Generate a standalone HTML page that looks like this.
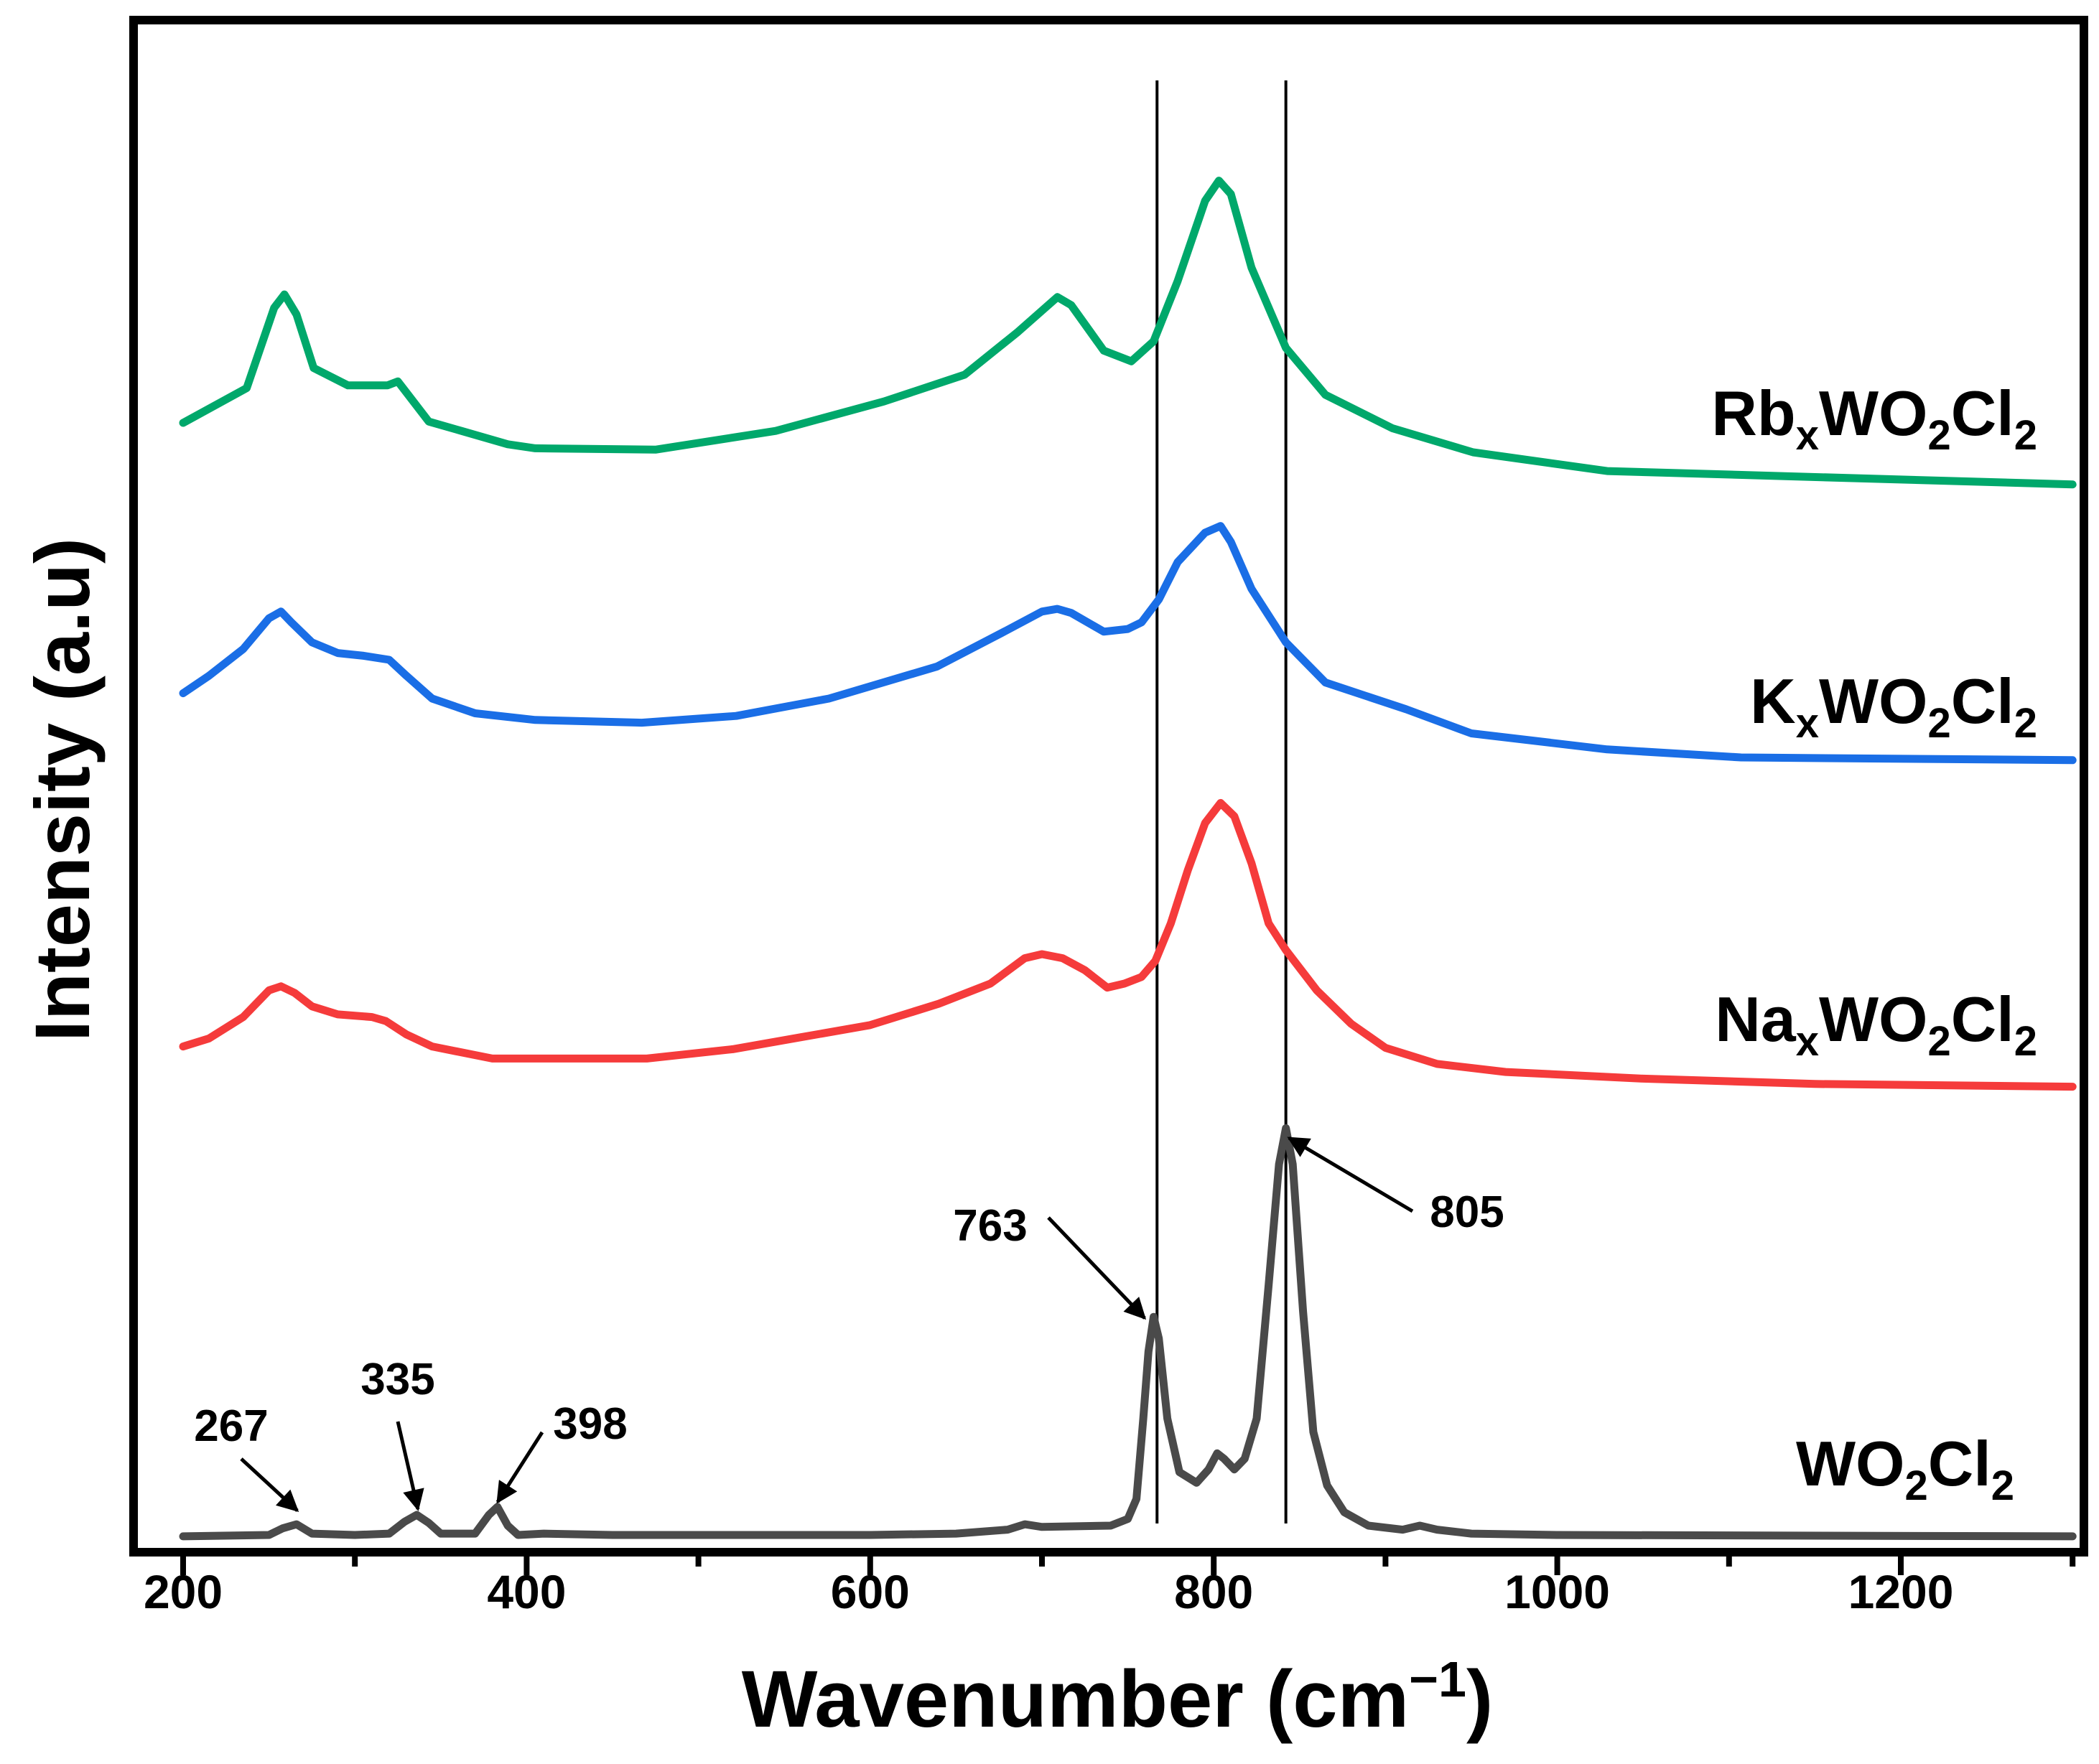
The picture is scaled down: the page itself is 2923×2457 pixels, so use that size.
<!DOCTYPE html>
<html><head><meta charset="utf-8"><style>
html,body{margin:0;padding:0;background:#fff;}
svg{display:block;}
text{font-family:"Liberation Sans",Arial,sans-serif;font-weight:bold;fill:#000;}
</style></head><body>
<svg id="chart" width="2923" height="2457" viewBox="0 0 2923 2457" xmlns="http://www.w3.org/2000/svg">
<defs><marker id="ah" viewBox="0 0 10 10" refX="9" refY="5" markerWidth="9" markerHeight="6" orient="auto" markerUnits="strokeWidth"><path d="M0,0 L10,5 L0,10 z" fill="#000"/></marker></defs>
<g id="plot"></g>
<rect x="186" y="28" width="2716" height="2134" fill="none" stroke="#000" stroke-width="12"/>
<g id="axes"></g>
<text x="1556" y="2405" font-size="112" text-anchor="middle">Wavenumber (cm<tspan dy="-42" font-size="70">−1</tspan><tspan dy="42">)</tspan></text>
<text transform="translate(124,1100) rotate(-90)" font-size="108" text-anchor="middle">Intensity (a.u)</text>
<text x="2837" y="606" font-size="88" text-anchor="end">Rb<tspan dy="20" font-size="58">x</tspan><tspan dy="-20">WO</tspan><tspan dy="20" font-size="58">2</tspan><tspan dy="-20">Cl</tspan><tspan dy="20" font-size="58">2</tspan></text>
<text x="2837" y="1007" font-size="88" text-anchor="end">K<tspan dy="20" font-size="58">x</tspan><tspan dy="-20">WO</tspan><tspan dy="20" font-size="58">2</tspan><tspan dy="-20">Cl</tspan><tspan dy="20" font-size="58">2</tspan></text>
<text x="2837" y="1450" font-size="88" text-anchor="end">Na<tspan dy="20" font-size="58">x</tspan><tspan dy="-20">WO</tspan><tspan dy="20" font-size="58">2</tspan><tspan dy="-20">Cl</tspan><tspan dy="20" font-size="58">2</tspan></text>
<text x="2805" y="2069" font-size="88" text-anchor="end">WO<tspan dy="20" font-size="58">2</tspan><tspan dy="-20">Cl</tspan><tspan dy="20" font-size="58">2</tspan></text>
<g font-size="62">
<text x="322" y="2007" text-anchor="middle">267</text>
<text x="554" y="1942" text-anchor="middle">335</text>
<text x="822" y="2004" text-anchor="middle">398</text>
<text x="1379" y="1728" text-anchor="middle">763</text>
<text x="2043" y="1709" text-anchor="middle">805</text>
<g stroke="#000" stroke-width="5" fill="none">
<line x1="336" y1="2032" x2="414" y2="2104" marker-end="url(#ah)"/>
<line x1="554" y1="1980" x2="582" y2="2102" marker-end="url(#ah)"/>
<line x1="755" y1="1995" x2="693" y2="2092" marker-end="url(#ah)"/>
<line x1="1460" y1="1696" x2="1594" y2="1836" marker-end="url(#ah)"/>
<line x1="1967" y1="1687" x2="1795" y2="1585" marker-end="url(#ah)"/>
</g></g>
</svg>
<script>
const wnGray=[200,250,258,266,275,300,320,329,336,343,350,370,378,383,389,395,410,450,600,650,680,690,700,740,750,755,759,762,765,768,773,780,790,797,802,806,812,818,825,832,838,842,846,852,858,866,876,890,910,920,930,950,1000,1300];
const valGray=[52,53,58,61,54,53,54,63,68,62,54,54,68,74,60,53,54,53,53,54,57,61,59,60,65,80,140,190,216,200,140,100,92,102,114,110,102,110,140,240,330,357,330,220,130,90,70,60,57,60,57,54,53,52];
const wnNa=[200,215,235,250,257,265,275,290,310,318,330,345,380,420,470,520,560,600,640,670,690,700,712,725,738,748,758,766,775,785,795,804,812,822,832,842,860,880,900,930,970,1050,1150,1300];
const valNa=[418,424,440,460,463,458,448,442,440,437,427,418,409,409,409,416,425,434,450,465,484,487,484,475,462,465,470,482,510,550,585,600,590,555,510,490,460,435,417,405,399,394,390,388];
const wnK=[200,215,235,250,257,263,275,290,305,320,330,345,370,405,467,522,576,639,678,700,709,717,736,750,758,768,779,795,804,810,822,842,865,912,950,1029,1107,1300];
const valK=[682,695,715,738,743,735,720,712,710,707,695,678,667,662,660,665,678,702,728,743,745,742,728,730,735,752,780,802,807,795,760,720,690,670,652,640,634,632];
const wnRb=[200,237,253,259,266,276,296,319,325,331,343,362,389,405,475,545,608,655,686,709,717,736,752,765,779,795,803,810,822,842,865,904,951,1029,1300];
const valRb=[884,910,970,980,965,925,912,912,915,905,885,878,868,865,864,878,900,920,952,978,972,938,930,945,990,1050,1065,1055,1000,940,905,880,862,848,838];
const xTicks=[200,400,600,800,1000,1200];
const xMinor=[300,500,700,900,1100,1300];
const refLines=[767,842];
const NS="http://www.w3.org/2000/svg";
function xs(w){return 255+(w-200)*2.392;}
function ys(v){return (1200-v)*1.864;}
const plot=document.getElementById('plot');
function series(wn,val,color,name){
  const p=document.createElementNS(NS,'path');
  p.setAttribute('d',wn.map((w,i)=>(i?'L':'M')+xs(w).toFixed(1)+','+ys(val[i]).toFixed(1)).join(' '));
  p.setAttribute('fill','none');p.setAttribute('stroke',color);p.setAttribute('stroke-width','11');p.setAttribute('stroke-linejoin','round');p.setAttribute('stroke-linecap','round');
  
  
  plot.appendChild(p);
}
refLines.forEach(w=>{
  const l=document.createElementNS(NS,'line');
  l.setAttribute('x1',xs(w));l.setAttribute('x2',xs(w));l.setAttribute('y1',112);l.setAttribute('y2',2122);
  l.setAttribute('stroke','#000');l.setAttribute('stroke-width','4');
  
  
  plot.appendChild(l);
});
series(wnRb,valRb,'#00a86b','series-rb');
series(wnK,valK,'#1a6ee6','series-k');
series(wnNa,valNa,'#f53b3b','series-na');
series(wnGray,valGray,'#4a4a4a','series-wo2cl2');
const axes=document.getElementById('axes');
xTicks.forEach(t=>{
  const l=document.createElementNS(NS,'line');
  l.setAttribute('x1',xs(t));l.setAttribute('x2',xs(t));l.setAttribute('y1',2168);l.setAttribute('y2',2194);
  l.setAttribute('stroke','#000');l.setAttribute('stroke-width','8');
  
  
  axes.appendChild(l);
  const tx=document.createElementNS(NS,'text');
  tx.setAttribute('x',xs(t));tx.setAttribute('y',2240);tx.setAttribute('font-size','66');tx.setAttribute('text-anchor','middle');
  tx.textContent=t;
  
  
  axes.appendChild(tx);
});
xMinor.forEach(t=>{
  const l=document.createElementNS(NS,'line');
  l.setAttribute('x1',xs(t));l.setAttribute('x2',xs(t));l.setAttribute('y1',2168);l.setAttribute('y2',2182);
  l.setAttribute('stroke','#000');l.setAttribute('stroke-width','8');
  
  
  axes.appendChild(l);
});
</script>
</body></html>
